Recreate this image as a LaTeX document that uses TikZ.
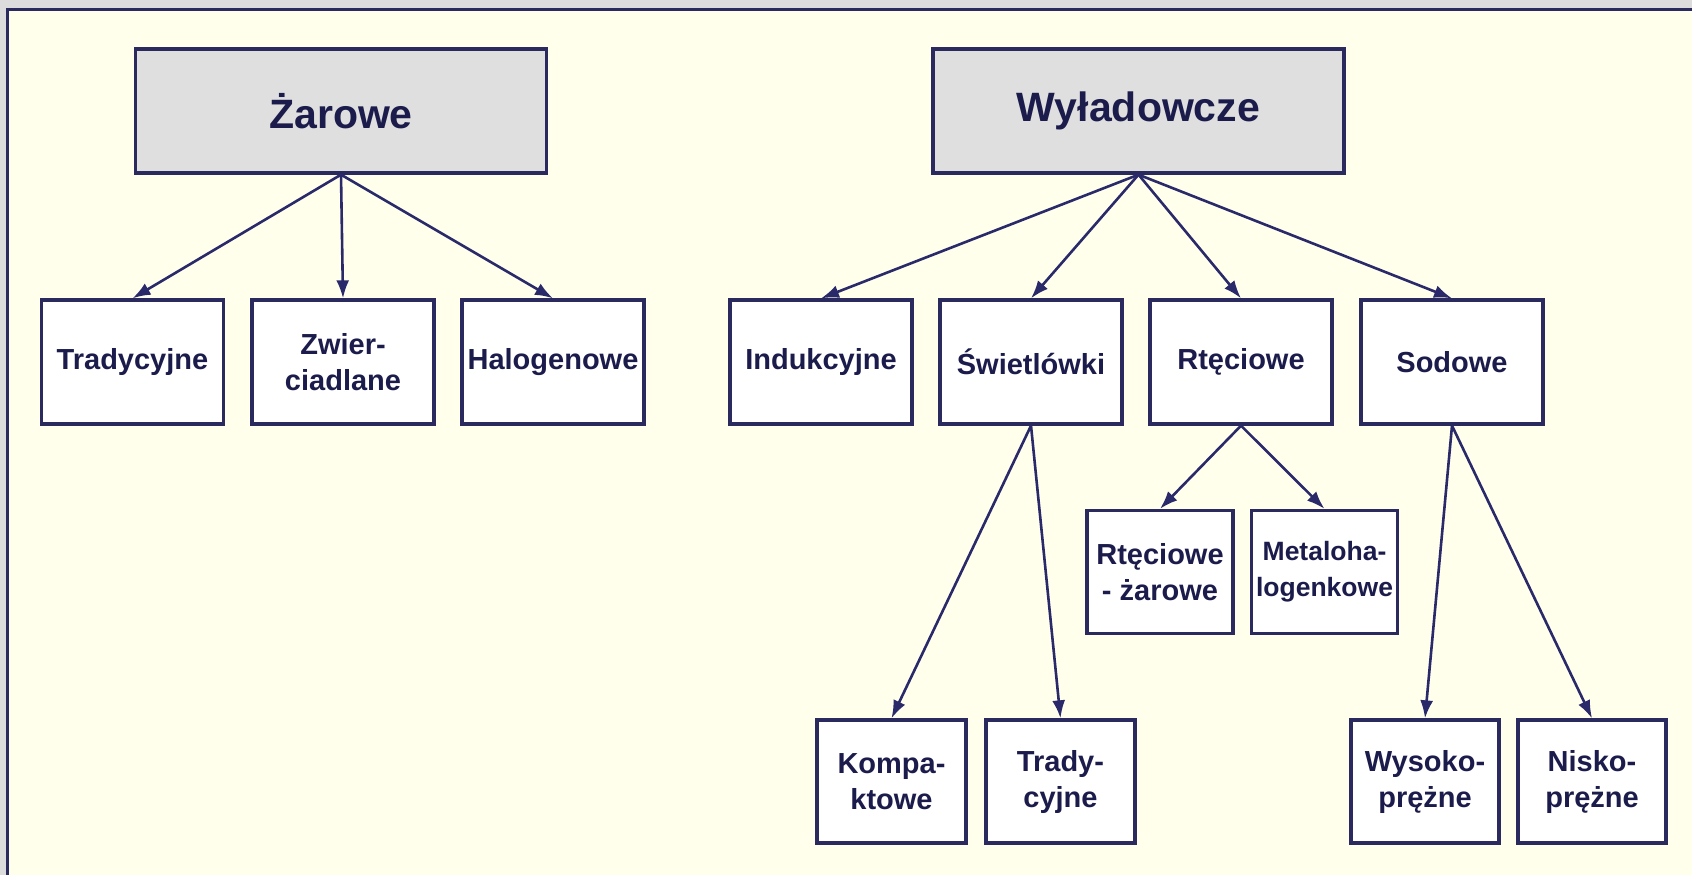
\documentclass[tikz,border=0pt]{standalone}
\usepackage{fontspec}
\setmainfont{Liberation Sans}
\usetikzlibrary{arrows.meta}
\definecolor{navy}{HTML}{2A2A5E}
\definecolor{textnavy}{HTML}{1C1C4C}
\definecolor{arrownavy}{HTML}{2A2A6A}
\definecolor{cream}{HTML}{FFFFEC}
\definecolor{outergray}{HTML}{DCDCDC}
\definecolor{topgray}{HTML}{DFDFDF}
\tikzset{
  box/.style={draw=navy, line width=3.3pt, fill=white, inner sep=0pt, align=center,
    text=textnavy, font=\bfseries\fontsize{29}{36}\selectfont},
  topbox/.style={box, fill=topgray, minimum width=411pt, minimum height=124pt,
    font=\bfseries\fontsize{41}{48}\selectfont},
  midbox/.style={box, minimum width=182pt, minimum height=124pt},
  smallbox/.style={box, minimum width=146pt, minimum height=123pt},
  arr/.style={draw=arrownavy, line width=2.6pt, -{Latex[length=18pt,width=13pt]}}
}
\begin{document}
\begin{tikzpicture}[x=1pt,y=-1pt]
\useasboundingbox (0,0) rectangle (1692,875);
\fill[outergray] (0,0) rectangle (1692,875);
\fill[cream] (7,9) rectangle (1692,875);
\draw[navy, line width=3.2pt] (7.5,875) -- (7.5,9.5) -- (1692,9.5);

\node[topbox] (zar) at (341,111) {Żarowe};
\node[topbox] (wyl) at (1138.5,111) {Wyładowcze};

\node[midbox] (trad1) at (132.5,362) {Tradycyjne};
\node[midbox] (zwier) at (343,362) {Zwier-\\ciadlane};
\node[midbox] (halo) at (553,362) {Halogenowe};
\node[midbox] (ind) at (821,362) {Indukcyjne};
\node[midbox] (swi) at (1031,362) {Świetlówki};
\node[midbox] (rte) at (1241,362) {Rtęciowe};
\node[midbox] (sod) at (1452,362) {Sodowe};

\node[smallbox] (rz) at (1160,572) {Rtęciowe\\- żarowe};
\node[smallbox, font=\bfseries\fontsize{26.5}{36}\selectfont] (meta) at (1324.5,572) {Metaloha-\\logenkowe};

\node[smallbox, minimum width=149pt] (komp) at (891.5,781.5) {Kompa-\\ktowe};
\node[smallbox, minimum width=149pt] (trad2) at (1060.5,781.5) {Trady-\\cyjne};
\node[smallbox, minimum width=148pt] (wys) at (1425,781.5) {Wysoko-\\prężne};
\node[smallbox, minimum width=148pt] (nis) at (1592,781.5) {Nisko-\\prężne};

\draw[arr] (zar.south) -- (trad1.north);
\draw[arr] (zar.south) -- (zwier.north);
\draw[arr] (zar.south) -- (halo.north);

\draw[arr] (wyl.south) -- (ind.north);
\draw[arr] (wyl.south) -- (swi.north);
\draw[arr] (wyl.south) -- (rte.north);
\draw[arr] (wyl.south) -- (sod.north);

\draw[arr] (swi.south) -- (komp.north);
\draw[arr] (swi.south) -- (trad2.north);

\draw[arr] (rte.south) -- (rz.north);
\draw[arr] (rte.south) -- (meta.north);

\draw[arr] (sod.south) -- (wys.north);
\draw[arr] (sod.south) -- (nis.north);
\end{tikzpicture}
\end{document}
